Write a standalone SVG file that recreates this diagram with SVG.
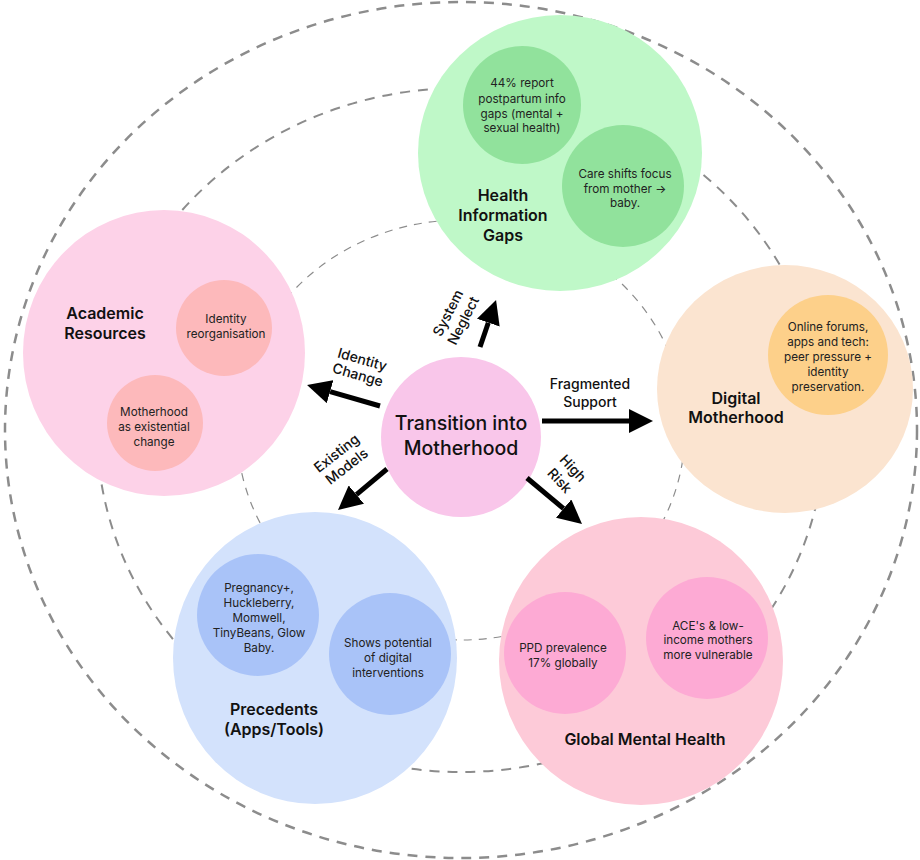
<svg xmlns="http://www.w3.org/2000/svg" width="920" height="860" viewBox="0 0 920 860">
<defs>
<style>
.ring{fill:none;stroke:#8c8c8c;}
.t{font-family:Inter,"Noto Sans","Liberation Sans",sans-serif;fill:#111;text-anchor:middle;}
.title{font-size:16px;font-weight:600;}
.main{font-size:19.5px;font-weight:500;}
.small{font-size:11.7px;font-weight:400;fill:#222;}
.lab{font-size:14px;font-weight:500;}
.arr{stroke:#000;stroke-width:5;fill:none;marker-end:url(#ah);}
</style>
<marker id="ah" viewBox="0 -12 24 24" refX="0" refY="0" markerWidth="24" markerHeight="24" markerUnits="userSpaceOnUse" orient="auto">
<path d="M0,-12 L24,0 L0,12 z" fill="#000"/>
</marker>
</defs>
<rect width="920" height="860" fill="#fff"/>
<g id="rings">
<ellipse class="ring" cx="461" cy="430" rx="456" ry="428" stroke-width="2.5" stroke-dasharray="10 8"/>
<ellipse class="ring" cx="461" cy="430" rx="364" ry="342" stroke-width="2" stroke-dasharray="10 8"/>
<ellipse class="ring" cx="461" cy="430" rx="224" ry="210" stroke-width="1.2" stroke-dasharray="8 7"/>
</g>
<g id="health-information-gaps">
<ellipse cx="560" cy="153" rx="142" ry="138" fill="#bff8c8"/>
<circle cx="522" cy="105" r="59" fill="#91e29c"/>
<circle cx="623" cy="186" r="61" fill="#91e29c"/>
<text class="t title"><tspan x="503" y="201">Health</tspan><tspan x="503" y="221">Information</tspan><tspan x="503" y="241">Gaps</tspan></text>
<text class="t small"><tspan x="522" y="87">44% report</tspan><tspan x="522" y="103">postpartum info</tspan><tspan x="522" y="118">gaps (mental +</tspan><tspan x="522" y="132">sexual health)</tspan></text>
<text class="t small"><tspan x="625" y="178">Care shifts focus</tspan><tspan x="625" y="193">from mother →</tspan><tspan x="625" y="207">baby.</tspan></text>
</g>
<g id="academic-resources">
<ellipse cx="164" cy="353" rx="141" ry="143" fill="#fdd2e8"/>
<circle cx="224" cy="328" r="48" fill="#fdb9bb"/>
<circle cx="155" cy="423" r="48" fill="#fdb9bb"/>
<text class="t title"><tspan x="105" y="319">Academic</tspan><tspan x="105" y="339">Resources</tspan></text>
<text class="t small"><tspan x="226" y="323">Identity</tspan><tspan x="226" y="338">reorganisation</tspan></text>
<text class="t small"><tspan x="154" y="416">Motherhood</tspan><tspan x="154" y="431">as existential</tspan><tspan x="154" y="446">change</tspan></text>
</g>
<g id="digital-motherhood">
<ellipse cx="785" cy="389" rx="128" ry="124" fill="#fbe4d0"/>
<circle cx="828" cy="355" r="60" fill="#fdd08a"/>
<text class="t title"><tspan x="736" y="404">Digital</tspan><tspan x="736" y="423">Motherhood</tspan></text>
<text class="t small"><tspan x="828" y="331">Online forums,</tspan><tspan x="828" y="346">apps and tech:</tspan><tspan x="828" y="361">peer pressure +</tspan><tspan x="828" y="376">identity</tspan><tspan x="828" y="391">preservation.</tspan></text>
</g>
<g id="precedents">
<ellipse cx="315" cy="658" rx="142" ry="146" fill="#d3e2fc"/>
<circle cx="258" cy="615" r="61" fill="#a9c3f8"/>
<circle cx="390" cy="654" r="61" fill="#a9c3f8"/>
<text class="t title"><tspan x="274" y="715">Precedents</tspan><tspan x="274" y="735">(Apps/Tools)</tspan></text>
<text class="t small"><tspan x="259" y="592">Pregnancy+,</tspan><tspan x="259" y="607">Huckleberry,</tspan><tspan x="259" y="622">Momwell,</tspan><tspan x="259" y="637">TinyBeans, Glow</tspan><tspan x="259" y="652">Baby.</tspan></text>
<text class="t small"><tspan x="388" y="647">Shows potential</tspan><tspan x="388" y="662">of digital</tspan><tspan x="388" y="677">interventions</tspan></text>
</g>
<g id="global-mental-health">
<ellipse cx="641" cy="661" rx="142" ry="144" fill="#fdcad8"/>
<circle cx="565" cy="653" r="61" fill="#fdaad4"/>
<circle cx="707" cy="638" r="61" fill="#fdaad4"/>
<text class="t title"><tspan x="645" y="745">Global Mental Health</tspan></text>
<text class="t small"><tspan x="563" y="652">PPD prevalence</tspan><tspan x="563" y="667">17% globally</tspan></text>
<text class="t small"><tspan x="708" y="630">ACE's &amp; low-</tspan><tspan x="708" y="644">income mothers</tspan><tspan x="708" y="659">more vulnerable</tspan></text>
</g>
<g id="transition-into-motherhood">
<circle cx="461" cy="437" r="80" fill="#f9c6ea"/>
<text class="t main"><tspan x="461" y="430">Transition into</tspan><tspan x="461" y="455">Motherhood</tspan></text>
</g>
<g id="connectors">
<line class="arr" x1="480" y1="347" x2="488.3" y2="322.7"/>
<line class="arr" x1="380" y1="406" x2="330.1" y2="391.6"/>
<line class="arr" x1="542" y1="421" x2="629" y2="421"/>
<line class="arr" x1="387" y1="469" x2="356.4" y2="494.6"/>
<line class="arr" x1="527" y1="478" x2="563.6" y2="508.6"/>
<g transform="translate(456,317) rotate(-63)"><text class="t lab"><tspan x="0" y="-4">System</tspan><tspan x="0" y="13">Neglect</tspan></text></g>
<g transform="translate(360,367.5) rotate(16)"><text class="t lab"><tspan x="0" y="-3.5">Identity</tspan><tspan x="0" y="12.5">Change</tspan></text></g>
<text class="t lab"><tspan x="590" y="389">Fragmented</tspan><tspan x="590" y="407">Support</tspan></text>
<g transform="translate(342,460.3) rotate(-38)"><text class="t lab"><tspan x="0" y="-4">Existing</tspan><tspan x="0" y="12.5">Models</tspan></text></g>
<g transform="translate(566,474.7) rotate(47)"><text class="t lab"><tspan x="0" y="-4.5">High</tspan><tspan x="0" y="13.5">Risk</tspan></text></g>
</g>
</svg>
